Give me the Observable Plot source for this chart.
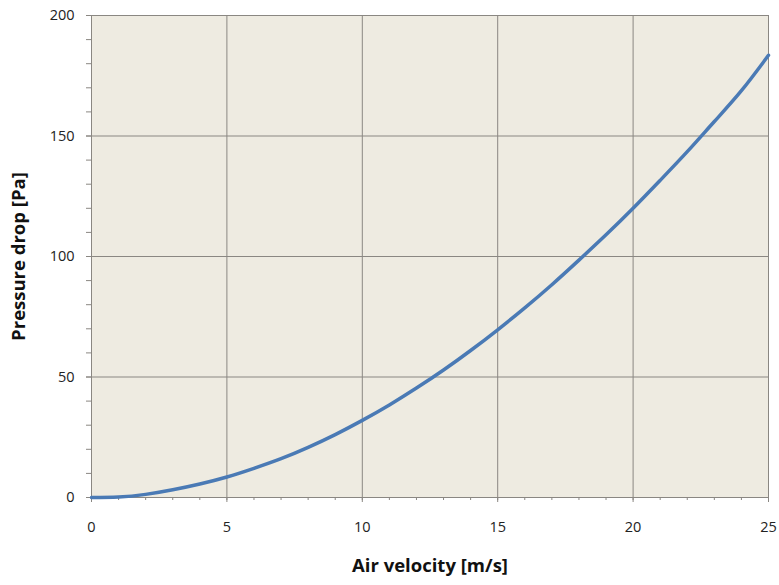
<!DOCTYPE html>
<html>
<head>
<meta charset="utf-8">
<script src="https://cdn.jsdelivr.net/npm/d3@7"></script>
<script src="https://cdn.jsdelivr.net/npm/@observablehq/plot@0.6"></script>
<style>
  html, body { margin: 0; padding: 0; background: #ffffff; }
  #chart { width: 779px; height: 585px; }
</style>
</head>
<body>
<div id="chart"></div>
<script>
// Air velocity [m/s]
const velocity = [0, 1, 2, 3, 4, 5, 6, 7, 8, 9, 10, 11, 12, 13, 14, 15, 16, 17, 18, 19, 20, 21, 22, 23, 24, 25];
// Pressure drop [Pa]
const pressure = [0, 0.2, 1.3, 3.2, 5.6, 8.5, 12.1, 16.1, 20.8, 26.1, 32, 38.4, 45.4, 52.9, 61, 69.6, 78.7, 88.3, 98.5, 109, 120, 131.6, 143.5, 156, 168.8, 183.5];
const xMajor = [0, 5, 10, 15, 20, 25];
const xMinor = d3.range(0, 25.001, 1);
const yMajor = [0, 50, 100, 150, 200];
const yMinor = d3.range(0, 200.001, 10);
const xTitle = "Air velocity [m/s]";
const yTitle = "Pressure drop [Pa]";

const data = velocity.map((v, i) => ({v, p: pressure[i]}));

const gridColor = "#8a8782";
const chart = Plot.plot({
  width: 779,
  height: 585,
  marginLeft: 91,
  marginRight: 11,
  marginTop: 15,
  marginBottom: 88,
  style: {fontFamily: "'Open Sans', sans-serif", fontSize: "14.5px", color: "#222", background: "#ffffff", overflow: "visible"},
  x: {domain: [0, 25]},
  y: {domain: [0, 200]},
  marks: [
    Plot.frame({fill: "#eeebe1", stroke: null}),
    Plot.gridX(xMajor.slice(1, -1), {stroke: gridColor, strokeOpacity: 1, strokeWidth: 1}),
    Plot.gridY(yMajor.slice(1, -1), {stroke: gridColor, strokeOpacity: 1, strokeWidth: 1}),
    Plot.frame({stroke: gridColor, strokeWidth: 1}),
    Plot.axisX(xMinor, {tickSize: 3, text: null, stroke: gridColor, label: null}),
    Plot.axisX(xMajor, {tickSize: 5, tickPadding: 19, stroke: gridColor, fill: "#222", label: null, fontSize: 14.5}),
    Plot.axisY(yMinor, {tickSize: 5, text: null, stroke: gridColor, label: null}),
    Plot.axisY(yMajor, {tickSize: 5, tickPadding: 12, stroke: gridColor, fill: "#222", label: null, fontSize: 14.5}),
    Plot.line(data, {x: "v", y: "p", stroke: "#4a7ab5", strokeWidth: 3.5, curve: "natural"}),
    Plot.text([xTitle], {frameAnchor: "bottom", dy: 69, textAnchor: "middle", lineAnchor: "middle", fontWeight: "bold", fontSize: 18.5, fill: "#111"}),
    Plot.text([yTitle], {frameAnchor: "left", dx: -72, textAnchor: "middle", lineAnchor: "middle", rotate: -90, fontWeight: "bold", fontSize: 18.5, fill: "#111"})
  ]
});
document.getElementById("chart").appendChild(chart);
</script>
</body>
</html>
